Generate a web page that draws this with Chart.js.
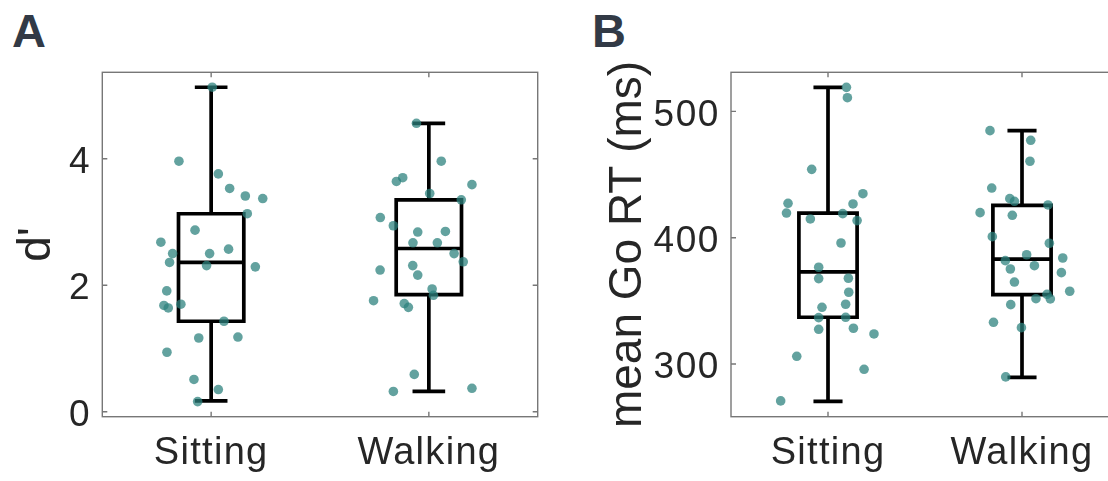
<!DOCTYPE html>
<html><head><meta charset="utf-8">
<script src="https://cdn.jsdelivr.net/npm/chart.js@4"></script>
<style>
html,body{margin:0;padding:0;background:#fff;width:1108px;height:481px;overflow:hidden;position:relative}
canvas{position:absolute;top:0}
#cA{left:0}
#cB{left:560px}
.lab{position:absolute;font:bold 47px "Liberation Sans",Arial,sans-serif;color:#323a46;line-height:47px}
</style></head><body>
<div class="lab" style="left:12px;top:7px">A</div>
<div class="lab" style="left:592px;top:7px">B</div>
<canvas id="cA" width="560" height="481"></canvas>
<canvas id="cB" width="600" height="481"></canvas>
<script>
// ---- data ----
const categories = ['Sitting', 'Walking'];
const dprimeTicks = [0, 2, 4];
const rtTicks = [300, 400, 500];

// box-plot statistics (Sitting, Walking)
const dprimeLow    = [0.17, 0.32];
const dprimeQ1     = [1.43, 1.85];
const dprimeMedian = [2.36, 2.58];
const dprimeQ3     = [3.13, 3.35];
const dprimeHigh   = [5.13, 4.56];

const rtLow    = [270.5, 289.5];
const rtQ1     = [337.0, 354.9];
const rtMedian = [372.9, 383.1];
const rtQ3     = [419.5, 425.6];
const rtHigh   = [519.0, 484.7];

// individual participants (jittered x position, value)
const dprimeSittingX = [1.005,0.852,1.033,1.085,1.157,1.237,1.166,0.926,0.769,0.823,0.809,0.993,1.080,0.979,1.203,0.796,0.783,0.803,0.861,1.059,0.943,1.123,0.797,0.921,1.033,0.938];
const dprimeSittingY = [5.13,3.96,3.76,3.53,3.41,3.37,3.13,2.87,2.68,2.50,2.36,2.50,2.57,2.31,2.29,1.91,1.68,1.64,1.70,1.43,1.165,1.18,0.94,0.51,0.35,0.16];
const dprimeWalkingX = [1.943,2.057,1.880,1.851,2.198,2.004,2.149,1.777,1.837,1.949,2.076,1.927,2.039,2.116,2.158,1.776,1.926,1.949,2.015,2.021,1.746,1.887,1.906,1.933,1.837,2.198];
const dprimeWalkingY = [4.56,3.96,3.70,3.64,3.59,3.45,3.35,3.07,2.94,2.84,2.85,2.67,2.67,2.50,2.37,2.24,2.31,2.16,1.94,1.84,1.755,1.71,1.65,0.59,0.32,0.37];

const rtSittingX = [1.095,1.100,0.916,0.794,0.786,0.909,1.076,1.129,1.180,1.150,1.067,0.952,0.952,1.105,1.107,0.969,1.091,0.952,1.091,0.952,1.131,1.237,0.839,1.186,0.756];
const rtSittingY = [519.0,510.8,454.1,427.2,419.5,414.8,419.0,426.7,434.8,413.5,395.8,376.6,367.6,367.9,356.8,344.9,347.3,336.7,337.0,327.5,328.3,323.8,306.1,295.8,270.8];
const rtWalkingX = [1.835,2.045,2.041,1.844,1.937,1.961,2.134,1.784,1.950,1.847,2.141,2.024,2.210,1.914,2.064,1.940,2.203,1.961,2.246,2.129,2.072,2.146,1.942,1.853,1.997,1.916];
const rtWalkingY = [484.7,477.1,460.5,439.3,430.9,428.8,425.9,419.8,417.7,400.8,395.6,386.5,383.9,381.8,377.8,375.2,372.3,364.9,357.6,355.2,351.7,351.5,347.0,333.0,328.8,289.8];

// ---- styling ----
const FONT = '"Liberation Sans", Arial, Helvetica, sans-serif';
const TEXT = '#262626';
const DOT = 'rgba(45,130,125,0.74)';
const BOX_HALF = 0.15, CAP_HALF = 0.075;
const LINE_W = 3.7;

function points(xs, ys) { return xs.map((x, i) => ({x, y: ys[i]})); }

function boxData(q1, med, q3) {
  const d = [];
  q1.forEach((_, i) => {
    const c = i + 1;
    d.push({x:c-BOX_HALF,y:q1[i]},{x:c+BOX_HALF,y:q1[i]},{x:c+BOX_HALF,y:q3[i]},{x:c-BOX_HALF,y:q3[i]},{x:c-BOX_HALF,y:q1[i]},{x:c,y:null});
    d.push({x:c-BOX_HALF,y:med[i]},{x:c+BOX_HALF,y:med[i]},{x:c,y:null});
  });
  return d;
}
function whiskerData(low, q1, q3, high) {
  const d = [];
  low.forEach((_, i) => {
    const c = i + 1;
    d.push({x:c,y:q3[i]},{x:c,y:high[i]},{x:c,y:null});
    d.push({x:c-CAP_HALF,y:high[i]},{x:c+CAP_HALF,y:high[i]},{x:c,y:null});
    d.push({x:c,y:q1[i]},{x:c,y:low[i]},{x:c,y:null});
    d.push({x:c-CAP_HALF,y:low[i]},{x:c+CAP_HALF,y:low[i]},{x:c,y:null});
  });
  return d;
}

const framePlugin = {
  id: 'frame',
  afterDatasetsDraw(chart) {
    const {ctx, chartArea: a, scales} = chart;
    ctx.save();
    ctx.strokeStyle = '#777';
    ctx.lineWidth = 1.4;
    ctx.strokeRect(a.left, a.top, a.right - a.left, a.bottom - a.top);
    const L = 5;
    ctx.beginPath();
    scales.y.ticks.forEach(t => {
      const y = scales.y.getPixelForValue(t.value);
      ctx.moveTo(a.left, y); ctx.lineTo(a.left + L, y);
      ctx.moveTo(a.right, y); ctx.lineTo(a.right - L, y);
    });
    scales.x.ticks.forEach(t => {
      const x = scales.x.getPixelForValue(t.value);
      ctx.moveTo(x, a.bottom); ctx.lineTo(x, a.bottom - L);
      ctx.moveTo(x, a.top); ctx.lineTo(x, a.top + L);
    });
    ctx.stroke();
    ctx.restore();
  }
};

// slightly wider letter spacing for tick labels (matches the reference typeface width)
function spaced(s, px) {
  if (s._spaced) return;
  s._spaced = true;
  const orig = s.drawLabels;
  s.drawLabels = function (...args) {
    const ctx = this.ctx;
    ctx.save();
    ctx.letterSpacing = px;
    orig.apply(this, args);
    ctx.restore();
  };
}

function makeChart(id, cfg) {
  return new Chart(document.getElementById(id), {
    type: 'scatter',
    data: {
      datasets: [
        { data: points(cfg.sx, cfg.sy), backgroundColor: DOT, borderWidth: 0, pointRadius: 4.8, pointHoverRadius: 4.8 },
        { data: points(cfg.wx, cfg.wy), backgroundColor: DOT, borderWidth: 0, pointRadius: 4.8, pointHoverRadius: 4.8 },
        { data: boxData(cfg.q1, cfg.med, cfg.q3), showLine: true, spanGaps: false, pointRadius: 0, borderColor: '#000', borderWidth: LINE_W, borderJoinStyle: 'miter', borderCapStyle: 'square' },
        { data: whiskerData(cfg.low, cfg.q1, cfg.q3, cfg.high), showLine: true, spanGaps: false, pointRadius: 0, borderColor: '#000', borderWidth: LINE_W, borderCapStyle: 'butt' }
      ]
    },
    options: {
      responsive: false,
      animation: false,
      events: [],
      layout: { padding: { left: 0, right: cfg.padRight, top: 72.3, bottom: 0 } },
      plugins: { legend: { display: false }, tooltip: { enabled: false } },
      scales: {
        x: {
          type: 'linear', min: 0.5, max: 2.5,
          afterBuildTicks: s => { s.ticks = categories.map((c, i) => ({value: i + 1})); },
          ticks: { callback: v => categories[Math.round(v) - 1], font: {family: FONT, size: 38}, color: TEXT, padding: 14, autoSkip: false, maxRotation: 0 },
          grid: { display: false, drawTicks: false },
          border: { display: false },
          afterFit: s => { s.height = 64.3; spaced(s, '1.3px'); }
        },
        y: {
          type: 'linear', min: cfg.ymin, max: cfg.ymax,
          afterBuildTicks: s => { s.ticks = cfg.ticks.map(v => ({value: v})); },
          ticks: { font: {family: FONT, size: 37}, color: TEXT, padding: 11, labelOffset: 4 },
          grid: { display: false, drawTicks: false },
          border: { display: false },
          title: { display: true, text: cfg.title, color: TEXT, font: {family: FONT, size: 46}, padding: {top: cfg.titlePad, bottom: 0} },
          afterFit: s => { s.width = cfg.yWidth; spaced(s, '1.6px'); }
        }
      }
    },
    plugins: [framePlugin]
  });
}

makeChart('cA', {
  sx: dprimeSittingX, sy: dprimeSittingY, wx: dprimeWalkingX, wy: dprimeWalkingY,
  low: dprimeLow, q1: dprimeQ1, med: dprimeMedian, q3: dprimeQ3, high: dprimeHigh,
  ymin: -0.079, ymax: 5.366, ticks: dprimeTicks, title: "d'", titlePad: 9.4,
  yWidth: 102.3, padRight: 22.3
});
makeChart('cB', {
  sx: rtSittingX, sy: rtSittingY, wx: rtWalkingX, wy: rtWalkingY,
  low: rtLow, q1: rtQ1, med: rtMedian, q3: rtQ3, high: rtHigh,
  ymin: 258.3, ymax: 530.9, ticks: rtTicks, title: 'mean Go RT (ms)', titlePad: 40.4,
  yWidth: 171, padRight: 41
});
</script>
</body></html>
